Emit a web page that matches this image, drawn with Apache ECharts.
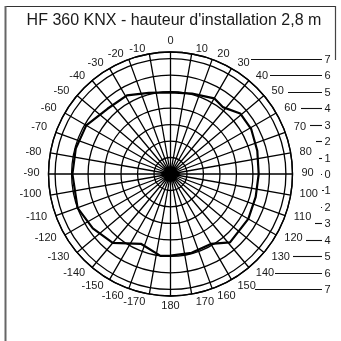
<!DOCTYPE html>
<html>
<head>
<meta charset="utf-8">
<script src="https://cdn.jsdelivr.net/npm/echarts@6/dist/echarts.min.js"></script>
<style>
  html, body { margin: 0; padding: 0; background: #fff; }
  #chart { width: 341px; height: 341px; }
</style>
</head>
<body>
<div id="chart"></div>
<script>
// Title of the detection diagram
const chartTitle = "HF 360 KNX - hauteur d'installation 2,8 m";

// Angle axis labels, one per 10° spoke, clockwise from the top
const angleLabels = ['0', '10', '20', '30', '40', '50', '60', '70', '80', '90',
  '100', '110', '120', '130', '140', '150', '160', '170', '180',
  '-170', '-160', '-150', '-140', '-130', '-120', '-110', '-100',
  '-90', '-80', '-70', '-60', '-50', '-40', '-30', '-20', '-10'];

// Detection field outline: angle (deg, clockwise from top) and reach (m)
const fieldAngles = [0, 15, 30, 38, 49, 61, 75, 90, 105, 120, 139, 150, 165, 180,
  187, 203, 220, 235, 250, 270, 285, 300, 316, 331, 345, 360];
const fieldReach = [4.95, 5.05, 5.3, 5.15, 5.6, 5.6, 5.45, 5.35, 5.35, 5.45, 5.5, 4.9, 4.95, 4.95,
  5.0, 4.6, 5.45, 5.75, 6.0, 5.95, 5.95, 5.9, 5.5, 5.45, 5.1, 4.95];

// Distance scale on the right: signed offset from centre (m) and printed value
const scaleOffsets = [7, 6, 5, 4, 3, 2, 1, 0, -1, -2, -3, -4, -5, -6, -7];
const scaleLabels = ['7', '6', '5', '4', '3', '2', '1', '0', '1', '2', '3', '4', '5', '6', '7'];

const maxReach = 7.4;       // radius axis extent (m)
const cx = 170.5, cy = 174; // polar centre (px)
const R = 122;              // outer ring radius (px)
const font = 'Liberation Sans, Arial, Helvetica, sans-serif';
const labelSize = 11;

const measureCtx = document.createElement('canvas').getContext('2d');
measureCtx.font = labelSize + 'px ' + font;

// Where an angle label's text centre goes, given the spoke end point on the rim
function labelCentre(p, deg, w) {
  const a = deg * Math.PI / 180;
  const s = Math.sin(a), c = Math.cos(a);
  let x, y;
  if (Math.abs(s) < 0.05) {
    x = p[0];
    y = c > 0 ? p[1] - 11 : p[1] + 9.7;
    return [x, y];
  }
  const hOff = 3 + 6 * Math.abs(s);
  x = s > 0 ? p[0] + hOff + w / 2 : p[0] - hOff - w / 2;
  if (Math.abs(c) < 0.2) y = p[1] - 1;
  else if (c > 0) y = p[1] - 5;
  else y = p[1] + 4 + 10 * (-c - 0.6);
  return [x, y];
}

// Gap between the rim and the start of a scale leader, clearing the angle labels
function leaderGap(v) {
  if (Math.abs(v) === 7) return v > 0 ? 41 : 45;
  return v >= 0 ? 28 : 33;
}

const chart = echarts.init(document.getElementById('chart'), null, { renderer: 'canvas' });

chart.setOption({
  animation: false,
  backgroundColor: '#fff',
  graphic: [
    { type: 'line', shape: { x1: 5, y1: 6.5, x2: 336, y2: 6.5 },
      style: { stroke: '#333', lineWidth: 1.2 }, silent: true },
    { type: 'line', shape: { x1: 5.5, y1: 6, x2: 5.5, y2: 345 },
      style: { stroke: '#666', lineWidth: 2 }, silent: true },
    { type: 'line', shape: { x1: 335.5, y1: 6, x2: 335.5, y2: 60 },
      style: { stroke: '#444', lineWidth: 1.2 }, silent: true },
    { type: 'text', x: 174, y: 21,
      style: { text: chartTitle, fontFamily: font, fontSize: 16, fill: '#1a1a1a',
               align: 'center', verticalAlign: 'middle' }, silent: true }
  ],
  polar: { center: [cx, cy], radius: R },
  angleAxis: {
    type: 'value',
    min: 0, max: 360, interval: 10,
    startAngle: 90, clockwise: true,
    axisLine: { show: true, lineStyle: { color: '#000', width: 1.3 } },
    axisTick: { show: false },
    axisLabel: { show: false },
    splitLine: { show: true, lineStyle: { color: '#000', width: 1.3 } }
  },
  radiusAxis: {
    type: 'value',
    min: 0, max: maxReach, interval: 1,
    axisLine: { show: false },
    axisTick: { show: false },
    axisLabel: { show: false },
    splitLine: { show: true, lineStyle: { color: '#000', width: 1.3 } }
  },
  grid: { left: cx, top: cy - R, width: 341 - cx, height: 2 * R, containLabel: false },
  xAxis: { type: 'value', min: 0, max: 1, show: false },
  yAxis: { type: 'value', min: -maxReach, max: maxReach, show: false },
  series: [
    {
      // detection field outline
      type: 'line',
      coordinateSystem: 'polar',
      symbol: 'none',
      lineStyle: { color: '#000', width: 2.2 },
      data: fieldAngles.map((a, i) => [fieldReach[i], a]),
      z: 5
    },
    {
      // angle labels set just outside the rim
      type: 'custom',
      coordinateSystem: 'polar',
      data: angleLabels.map((t, i) => [maxReach, i * 10]),
      renderItem: (params, api) => {
        const deg = api.value(1);
        const p = api.coord([api.value(0), deg]);
        const text = angleLabels[params.dataIndex];
        const w = measureCtx.measureText(text).width;
        const q = labelCentre(p, deg, w);
        return {
          type: 'text', x: q[0], y: q[1],
          style: { text: text, fontFamily: font, fontSize: labelSize, fill: '#1a1a1a',
                   align: 'center', verticalAlign: 'middle' }
        };
      },
      silent: true
    },
    {
      // distance scale leaders on the right
      type: 'custom',
      coordinateSystem: 'cartesian2d',
      data: scaleOffsets.map(v => [0, v]),
      renderItem: (params, api) => {
        const v = api.value(1);
        const y = api.coord([0, v])[1];
        const dy = Math.abs(y - cy);
        const rimX = cx + Math.sqrt(Math.max(0, R * R - dy * dy));
        const x0 = Math.round(rimX + leaderGap(v));
        const x1 = 322;
        const yy = Math.round(y) + 0.5;
        return {
          type: 'group',
          children: [
            { type: 'line', shape: { x1: x0, y1: yy, x2: x1, y2: yy },
              style: { stroke: '#111', lineWidth: 1.1 } },
            { type: 'text', x: 327.5, y: yy,
              style: { text: scaleLabels[params.dataIndex], fontFamily: font, fontSize: labelSize,
                       fill: '#1a1a1a', align: 'center', verticalAlign: 'middle' } }
          ]
        };
      },
      silent: true
    }
  ]
});
</script>
</body>
</html>
